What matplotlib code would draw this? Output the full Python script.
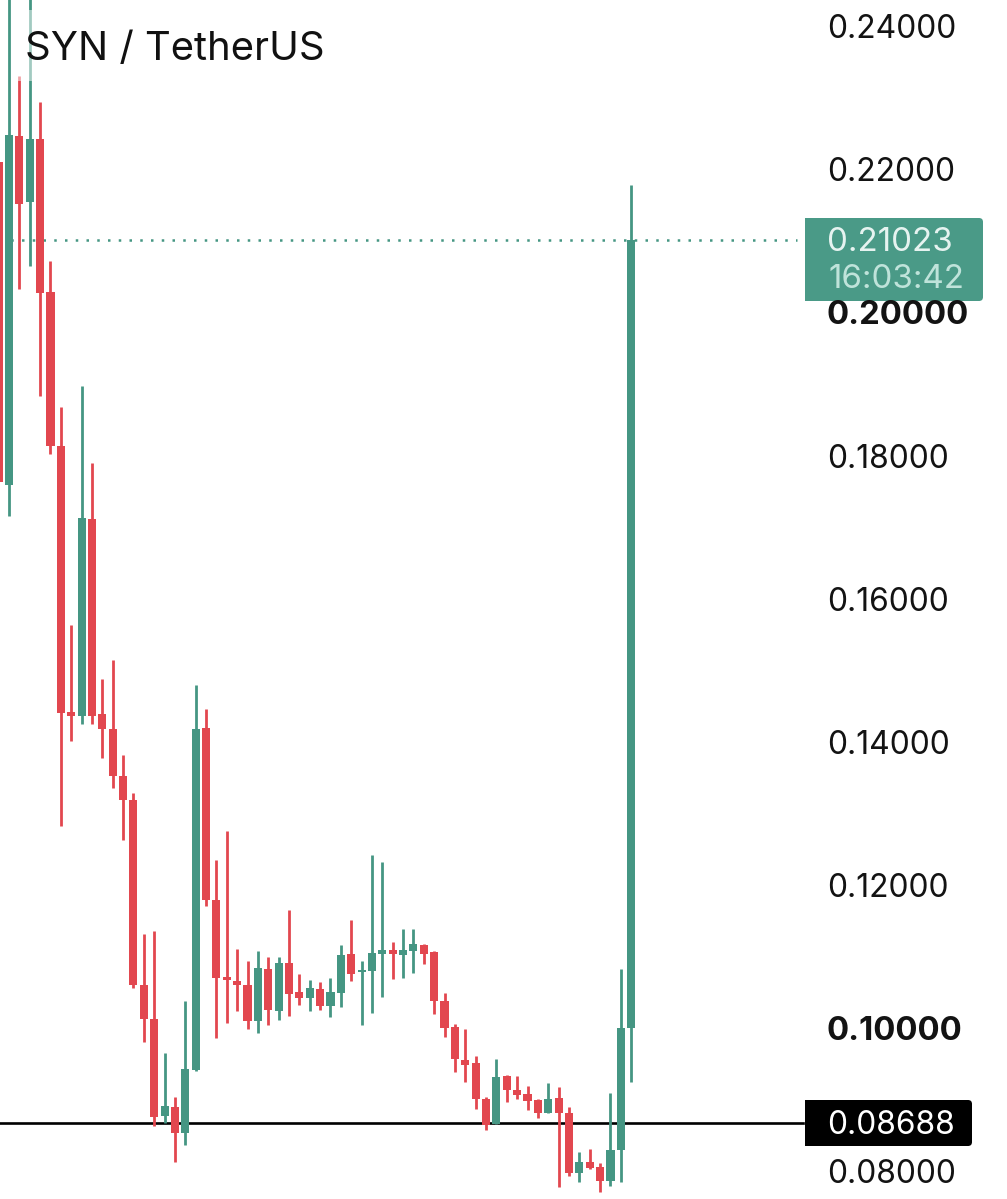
import matplotlib
matplotlib.use('Agg')
import matplotlib.pyplot as plt
import numpy as np
from matplotlib.patches import FancyBboxPatch, Rectangle
from matplotlib.transforms import Affine2D

# candle values, first candle is the cut off one on the left edge
opens = [0.22116, 0.17602, 0.22479, 0.21557, 0.22437, 0.20299, 0.18147, 0.14429, 0.14373, 0.17126,
         0.14401, 0.14191, 0.13534, 0.13199, 0.10613, 0.10138, 0.08783, 0.08908, 0.08545, 0.09426,
         0.14205, 0.11801, 0.10725, 0.10669, 0.10613, 0.10110, 0.10837, 0.10250, 0.10921, 0.10516,
         0.10432, 0.10558, 0.10320, 0.10502, 0.11047, 0.10795, 0.10809, 0.11047, 0.11103, 0.11033,
         0.11089, 0.11173, 0.11075, 0.10390, 0.10027, 0.09565, 0.09523, 0.09020, 0.08671, 0.09342,
         0.09146, 0.09090, 0.09006, 0.08825, 0.09034, 0.08825, 0.07986, 0.08140, 0.08070, 0.07874,
         0.08307, 0.10013]
closes = [0.17643, 0.22493, 0.21529, 0.22437, 0.20285, 0.18147, 0.14415, 0.14373, 0.17140, 0.14373,
          0.14191, 0.13534, 0.13199, 0.10613, 0.10138, 0.08769, 0.08922, 0.08545, 0.09440, 0.14191,
          0.11801, 0.10711, 0.10683, 0.10613, 0.10110, 0.10851, 0.10264, 0.10921, 0.10488, 0.10432,
          0.10572, 0.10320, 0.10516, 0.11033, 0.10767, 0.10823, 0.11061, 0.11103, 0.11047, 0.11103,
          0.11187, 0.11047, 0.10390, 0.10013, 0.09579, 0.09495, 0.09020, 0.08657, 0.09328, 0.09146,
          0.09076, 0.08992, 0.08825, 0.09020, 0.08825, 0.07986, 0.08140, 0.08056, 0.07874, 0.08307,
          0.10013, 0.21023]
highs = [0.22116, 0.24450, 0.23318, 0.24450, 0.22954, 0.20732, 0.18692, 0.15645, 0.18985, 0.17909,
         0.14890, 0.15156, 0.13828, 0.13297, 0.11326, 0.11368, 0.09663, 0.09048, 0.10390, 0.14806,
         0.14471, 0.12361, 0.12766, 0.11117, 0.10949, 0.11089, 0.11005, 0.11005, 0.11662, 0.10767,
         0.10683, 0.10655, 0.10711, 0.11173, 0.11522, 0.10949, 0.12430, 0.12333, 0.11214, 0.11396,
         0.11396, 0.11187, 0.11089, 0.10502, 0.10068, 0.09999, 0.09621, 0.09048, 0.09579, 0.09356,
         0.09342, 0.09202, 0.09020, 0.09244, 0.09188, 0.08908, 0.08280, 0.08321, 0.08126, 0.09104,
         0.10837, 0.21794]
lows = [0.17643, 0.17168, 0.20341, 0.20662, 0.18845, 0.18035, 0.12836, 0.14024, 0.14261, 0.14261,
        0.13786, 0.13367, 0.12640, 0.10572, 0.09817, 0.08643, 0.08685, 0.08140, 0.08377, 0.09412,
        0.11718, 0.09873, 0.10082, 0.10250, 0.09999, 0.09943, 0.10054, 0.10124, 0.10180, 0.10334,
        0.10250, 0.10264, 0.10166, 0.10306, 0.10669, 0.10054, 0.10222, 0.10446, 0.10697, 0.10711,
        0.10781, 0.10907, 0.10208, 0.09887, 0.09398, 0.09258, 0.08880, 0.08587, 0.08671, 0.08978,
        0.09020, 0.08867, 0.08755, 0.08825, 0.07790, 0.07944, 0.07860, 0.08042, 0.07720, 0.07804,
        0.07860, 0.09258]

price_ticks = [0.24, 0.22, 0.20, 0.18, 0.16, 0.14, 0.12, 0.10, 0.08]
bold_ticks = [0.20, 0.10]
last_price = 0.21023
level_price = 0.08688
countdown = '16:03:42'
title = 'SYN / TetherUS'

GREEN = '#459683'
RED = '#E2474F'
W, H = 1007, 1199

plt.rcParams['font.family'] = ['Inter', 'DejaVu Sans']

fig = plt.figure(figsize=(W / 100, H / 100), dpi=100)
ax = fig.add_axes([0, 0, 1, 1])
ax.set_xlim(-9 / 10.37, (W - 9) / 10.37)
ax.set_ylim(0.07623, 0.24380)
ax.axis('off')

# top-left pixel coordinates for the label boxes
px = Affine2D().scale(1, -1).translate(0, H)

x = np.arange(len(opens)) - 1
opens = np.array(opens)
closes = np.array(closes)
colors = [GREEN if c >= o else RED for o, c in zip(opens, closes)]

ax.axhline(last_price, xmax=797 / W, color=GREEN, lw=1.8, ls=(0, (1, 3.3)), zorder=1)
ax.axhline(level_price, xmax=803 / W, color='black', lw=1.9, zorder=2)

ax.vlines(x, lows, highs, colors=colors, lw=2.0, zorder=3)
ax.bar(x, np.abs(closes - opens), bottom=np.minimum(opens, closes), width=0.78,
       color=colors, linewidth=0, zorder=3)

# title sits on a see-through white plate, fades the wicks behind it
ax.add_patch(Rectangle((18, 10), 312, 71, transform=px, facecolor='white', alpha=0.5,
                       linewidth=0, zorder=4))
ax.text(25, 49, title, transform=px, fontsize=28.8, color='#111111',
        va='center', ha='left', zorder=6)


def label_box(x0, y0, x1, y1, color):
    # square on the left, rounded on the right
    ax.add_patch(FancyBboxPatch((x1 - 20, y0 + 4), 16, y1 - y0 - 8, boxstyle='round,pad=4',
                                transform=px, facecolor=color, linewidth=0, zorder=4))
    ax.add_patch(Rectangle((x0, y0), x1 - x0 - 10, y1 - y0, transform=px, facecolor=color,
                           linewidth=0, zorder=4))


label_box(805, 218, 983, 301, '#4A9A87')
label_box(805, 1100, 972, 1146, 'black')

# labels sit a little under their price level
ytrans = ax.get_yaxis_transform() + Affine2D().translate(0, -2.5)
for t in price_ticks:
    bold = t in bold_ticks
    ax.text(827 / W, t, f'{t:.5f}', transform=ytrans, fontsize=23.6 if bold else 22.9, color='#131313',
            fontweight='bold' if bold else 'normal', va='center', ha='left', zorder=6)

ax.text(827 / W, last_price, f'{last_price:.5f}', transform=ytrans, fontsize=23.8,
        color='#E6F3F0', va='center', ha='left', zorder=6)
ax.text(829, 280, countdown, transform=px, fontsize=23.8,
        color='#BFE3DA', va='center', ha='left', zorder=6)
ax.text(827 / W, level_price, f'{level_price:.5f}', transform=ytrans, fontsize=22.9,
        color='white', va='center', ha='left', zorder=6)

fig.savefig('out.png', dpi=100, facecolor='white')
